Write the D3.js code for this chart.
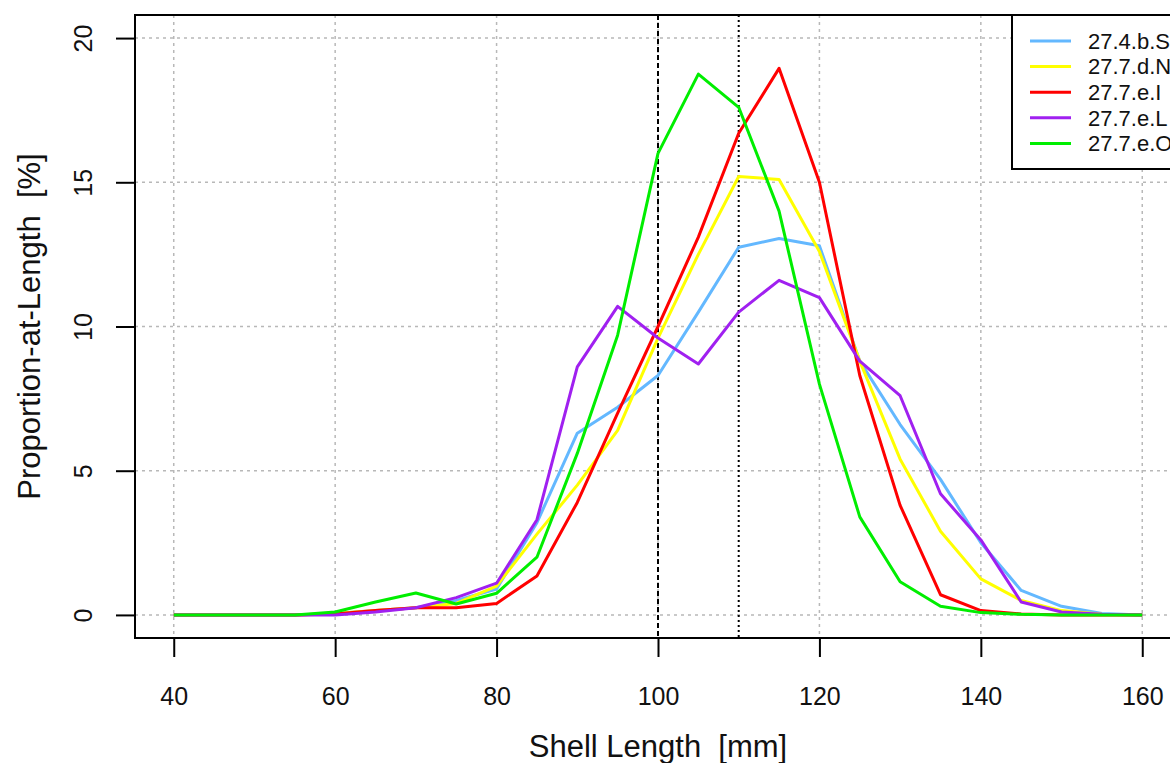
<!DOCTYPE html>
<html>
<head>
<meta charset="utf-8">
<script src="https://cdn.jsdelivr.net/npm/d3@7"></script>
<style>
  body { margin: 0; background: #fff; }
  text { font-family: "Liberation Sans", Arial, sans-serif; white-space: pre; }
</style>
</head>
<body>
<div id="chart"></div>
<script>
// shell length classes (mm)
const lengths = [40, 45, 50, 55, 60, 65, 70, 75, 80, 85, 90, 95, 100, 105, 110, 115, 120, 125, 130, 135, 140, 145, 150, 155, 160];

const area_4bS = [0, 0, 0, 0, 0.05, 0.15, 0.25, 0.5, 0.9, 3.2, 6.3, 7.2, 8.3, 10.5, 12.75, 13.05, 12.8, 8.8, 6.6, 4.7, 2.5, 0.85, 0.3, 0.05, 0];
const area_7dN = [0, 0, 0, 0, 0.05, 0.15, 0.25, 0.4, 1.0, 2.8, 4.5, 6.4, 9.6, 12.5, 15.2, 15.1, 12.6, 8.8, 5.4, 2.9, 1.25, 0.5, 0.15, 0.02, 0];
const area_7eI = [0, 0, 0, 0, 0.03, 0.15, 0.25, 0.25, 0.4, 1.35, 3.9, 7.0, 10.0, 13.1, 16.7, 18.95, 15.0, 8.3, 3.8, 0.7, 0.15, 0.03, 0, 0, 0];
const area_7eL = [0, 0, 0, 0, 0, 0.1, 0.25, 0.6, 1.1, 3.3, 8.6, 10.7, 9.6, 8.7, 10.5, 11.6, 11.0, 8.8, 7.6, 4.2, 2.6, 0.45, 0.1, 0.02, 0];
const area_7eO = [0, 0, 0, 0, 0.1, 0.45, 0.76, 0.38, 0.75, 2.0, 5.6, 9.7, 16.0, 18.75, 17.6, 14.0, 8.0, 3.4, 1.15, 0.3, 0.08, 0.02, 0, 0, 0];

const seriesNames = ["27.4.b.S", "27.7.d.N", "27.7.e.I", "27.7.e.L", "27.7.e.O"];
const seriesValues = [area_4bS, area_7dN, area_7eI, area_7eL, area_7eO];
const seriesColors = ["#63b8ff", "#ffff00", "#ff0000", "#a020f0", "#00ee00"];

const xTicks = [40, 60, 80, 100, 120, 140, 160];
const yTicks = [0, 5, 10, 15, 20];
const refLines = [100, 110];

const width = 1170, height = 763;
const box = {left: 135, top: 15, bottom: 638, right: 1181};

const x = d3.scaleLinear().domain([35.2, 164.8]).range([box.left, box.right]);
const y = d3.scaleLinear().domain([-0.8, 20.8]).range([box.bottom, box.top]);

const svg = d3.select("#chart").append("svg")
    .attr("width", width).attr("height", height);

// grid
const grid = svg.append("g").attr("stroke", "#b8b8b8").attr("stroke-width", 1.5).attr("stroke-dasharray", "3,4");
grid.selectAll("line.gx").data(xTicks).enter().append("line")
    .attr("x1", d => x(d)).attr("x2", d => x(d))
    .attr("y1", box.top).attr("y2", box.bottom);
grid.selectAll("line.gy").data(yTicks).enter().append("line")
    .attr("x1", box.left).attr("x2", box.right)
    .attr("y1", d => y(d)).attr("y2", d => y(d));

// reference lines
svg.selectAll("line.ref").data(refLines).enter().append("line")
    .attr("x1", d => x(d)).attr("x2", d => x(d))
    .attr("y1", box.top).attr("y2", box.bottom)
    .attr("stroke", "#000").attr("stroke-width", 2)
    .attr("stroke-dasharray", (d, i) => i === 0 ? "5,3" : "2,3");

// series lines
const line = d3.line().x((d, i) => x(lengths[i])).y(d => y(d));
svg.selectAll("path.series").data(seriesValues).enter().append("path")
    .attr("d", d => line(d))
    .attr("fill", "none")
    .attr("stroke", (d, i) => seriesColors[i])
    .attr("stroke-width", 3)
    .attr("stroke-linejoin", "round");

// box
svg.append("rect")
    .attr("x", box.left).attr("y", box.top)
    .attr("width", box.right - box.left).attr("height", box.bottom - box.top)
    .attr("fill", "none").attr("stroke", "#000").attr("stroke-width", 2);

// axes
const xAxis = svg.append("g").attr("transform", `translate(0,${box.bottom})`)
    .call(d3.axisBottom(x).tickValues(xTicks).tickSize(19));
const yAxis = svg.append("g").attr("transform", `translate(${box.left},0)`)
    .call(d3.axisLeft(y).tickValues(yTicks).tickSize(19));
[xAxis, yAxis].forEach(g => {
    g.select(".domain").remove();
    g.selectAll(".tick line").attr("stroke", "#000").attr("stroke-width", 2);
    g.selectAll(".tick text").attr("font-size", 25).attr("fill", "#111")
        .attr("font-family", "Liberation Sans, Arial, sans-serif");
});
xAxis.selectAll(".tick text").attr("y", 67).attr("dy", null);
yAxis.selectAll(".tick text")
    .attr("x", null).attr("dy", "0.35em")
    .attr("text-anchor", "middle")
    .attr("transform", "translate(-52,0) rotate(-90)");

// axis titles
svg.append("text")
    .attr("x", x(100)).attr("y", 757)
    .attr("text-anchor", "middle").attr("font-size", 31).attr("fill", "#111")
    .text("Shell Length  [mm]");
svg.append("text")
    .attr("transform", `translate(29,${y(10)}) rotate(-90)`)
    .attr("dy", "0.35em")
    .attr("text-anchor", "middle").attr("font-size", 31).attr("fill", "#111")
    .text("Proportion-at-Length  [%]");

// legend
const legend = svg.append("g");
legend.append("rect")
    .attr("x", 1012).attr("y", box.top)
    .attr("width", 200).attr("height", 154)
    .attr("fill", "#fff").attr("stroke", "#000").attr("stroke-width", 2);
const rows = legend.selectAll("g.row").data(seriesNames).enter().append("g")
    .attr("transform", (d, i) => `translate(0,${41 + i * 25.6})`);
rows.append("line")
    .attr("x1", 1030).attr("x2", 1071).attr("y1", 0).attr("y2", 0)
    .attr("stroke", (d, i) => seriesColors[i]).attr("stroke-width", 3);
rows.append("text")
    .attr("x", 1088).attr("y", 0).attr("dy", "0.35em")
    .attr("font-size", 22).attr("fill", "#111")
    .text(d => d);
</script>
</body>
</html>
